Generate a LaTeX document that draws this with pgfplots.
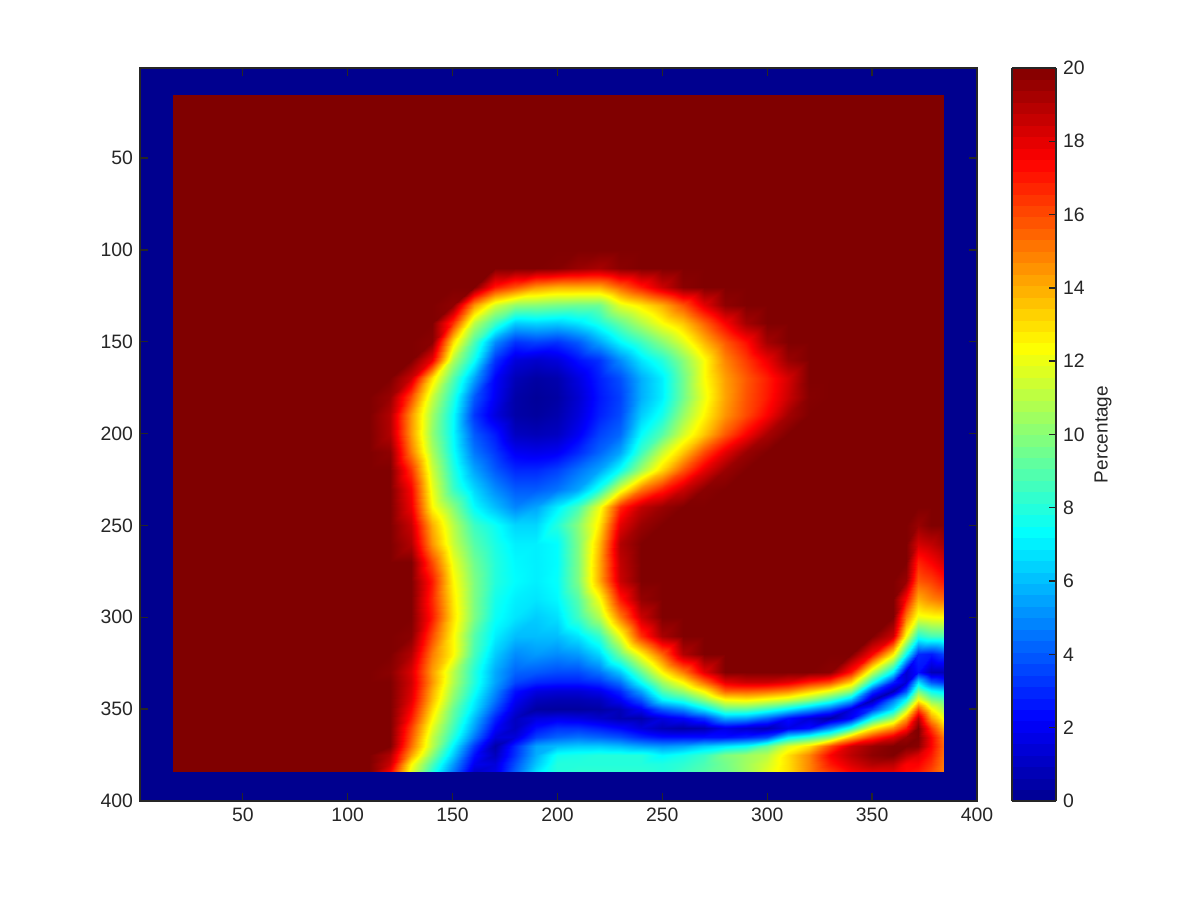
\documentclass[border=0pt]{standalone}
\usepackage{fontspec}
\setmainfont{Liberation Sans}
\usepackage{pgfplots}
\usepackage{pgfplotstable}
\pgfplotsset{compat=1.18}
\definecolor{axc}{RGB}{38,38,38}
\pgfplotstableread{
y 110 120 130 140 150 160 170 180 190 200 210 220 230 240 250 260 270 280 290 300 310 320 330 340 350 360 366 372 378 384
100 20 20 20 20 20 20 20 20 20 20 20 20 20 20 20 20 20 20 20 20 20 20 20 20 20 20 20 20 20 20
110 20 20 20 20 20 20 20 20 20 19.9 19.5 19.2 19.8 20 20 20 20 20 20 20 20 20 20 20 20 20 20 20 20 20
120 20 20 20 20 20 20 17 15.8 14.5 14 14 14 15.5 17 18.5 19.8 20 20 20 20 20 20 20 20 20 20 20 20 20 20
130 20 20 20 20 19.7 14.5 11.5 10.2 10 9.7 9.5 9.5 11.8 12.8 14 15.8 18 19.7 20 20 20 20 20 20 20 20 20 20 20 20
140 20 20 20 20 16.5 11 8.5 6.3 6.5 6.3 6.8 7.8 9.3 10.8 12.3 13.5 15.5 17.5 19.3 20 20 20 20 20 20 20 20 20 20 20
150 20 20 20 19.8 13 8.8 5 3.2 3.5 3.2 4 5.5 7.2 8.5 10 11.7 13.8 15.7 17.2 19.3 20 20 20 20 20 20 20 20 20 20
160 20 20 20 17.8 10.8 7.5 3.2 1.5 1.2 1.5 2.5 3.2 5 6.8 8 10 12.3 14.8 16.3 17.8 19.5 20 20 20 20 20 20 20 20 20
170 20 20 18.5 13 9 5.5 2.2 .8 .4 .6 1.6 2.8 3.8 5.7 7 9.5 12.3 14.3 15.7 16.9 18.3 20 20 20 20 20 20 20 20 20
180 20 19.5 16 11.3 8 4 2 .5 .2 .4 1.3 2.6 3.5 5.7 7 9.5 12 14.2 15.8 17 18.5 19.9 20 20 20 20 20 20 20 20
190 20 19 14.5 10.5 7.4 3.3 1.6 .5 .3 .6 1.5 2.8 3.7 6.3 7.7 10.3 12.5 14.5 16 17.5 19.3 20 20 20 20 20 20 20 20 20
200 20 19 14.4 10.2 7.3 4 2.7 1 .8 1 2 3.5 4.3 7.3 9 11.5 13.5 15.7 17.5 19.2 20 20 20 20 20 20 20 20 20 20
210 20 19.7 15 10.7 7.5 4.6 3.3 2 1.8 2 3 4.2 5.5 8.5 11.3 13.5 16 18 19.5 20 20 20 20 20 20 20 20 20 20 20
220 20 20 16.5 11.4 8 5.5 4 3 3 3.5 4.5 5.5 7.5 10.5 13.2 15.8 18 19.5 20 20 20 20 20 20 20 20 20 20 20 20
230 20 20 17.5 12 8.5 6.5 5 4 4 4.5 5.5 7.8 11.7 15 16.8 18.5 19.8 20 20 20 20 20 20 20 20 20 20 20 20 20
240 20 20 17.8 12.5 10 7.3 6 4.9 5.5 7 8.7 12 16.7 18.7 19.5 20 20 20 20 20 20 20 20 20 20 20 20 20 20 20
250 20 20 18.6 14 11 8.5 7.5 6.5 6.5 8 10 12.8 18 19.5 20 20 20 20 20 20 20 20 20 20 20 20 20 19.5 20 20
260 20 20 19 14.5 11.3 9 7.8 7 7 7.3 9.8 13.7 19 20 20 20 20 20 20 20 20 20 20 20 20 20 20 18.3 18.7 19.3
270 20 20 20 16 12 9.5 8 7.2 7 7.3 9.8 14 18.7 20 20 20 20 20 20 20 20 20 20 20 20 20 20 16.8 17.5 18.3
280 20 20 20 17 12.5 9.8 8 7.3 7 7.4 9.8 14 18.5 20 20 20 20 20 20 20 20 20 20 20 20 20 19.5 15.7 16.2 17
290 20 20 20 16.7 12.8 9.8 7.7 7 6.8 7.2 9 12.2 17 19.6 20 20 20 20 20 20 20 20 20 20 20 20 17.3 14 14.8 15.3
300 20 20 20 17 13 9.8 7.5 6.8 6.3 6.7 8.5 10.8 15 18.5 20 20 20 20 20 20 20 20 20 20 20 20 15 12 12.3 12.4
310 20 20 19.8 16 12.5 9 7 6 6 6 6.8 8.3 12 16.5 19.2 20 20 20 20 20 20 20 20 20 20 18.5 12.2 8 8.7 8.8
320 20 20 19 15 12.5 8.7 6.3 5 5.3 5 5.3 6.5 9.5 12.5 15.5 19 20 20 20 20 20 20 20 20 17.5 12.7 7.5 3 2.7 3.5
330 20 19.8 18.2 14.3 11 8 5.6 4.2 4 3.7 3.7 4.5 6.2 9.3 12.5 15 18 20 20 20 20 20 19.8 17 11.2 7 1.3 2.5 .8 .8
335 20 20 18.4 14.5 10.9 8 5.5 3.6 3 2.8 2.8 3.2 4.5 7.5 10.5 12.5 15.3 18 18.5 18.5 18 16.9 16 13.3 7.8 2.8 1.4 6.7 3.9 3.2
340 20 20 18.2 14 10.4 7.6 5 2.5 1.6 1.4 1.4 1.8 3 5.5 8.9 10.4 12.5 15.5 15.6 15.3 14.7 13.3 11.9 10 3.3 .7 3.9 9.7 7.5 6.8
345 20 20 18 13.7 10 7.1 4.5 2 .9 .7 .7 .9 2 3.8 7 8 10 12.2 12.5 11.9 11.2 10 8.3 5.8 .7 4.7 7.5 12.5 10 9.2
350 20 20 17.5 13.1 9.4 6.7 3.8 1.5 .4 .3 .3 .4 .8 2 4 5 6.9 9.2 9.2 8.3 7 5.5 4 1.6 3.3 6.8 11 16 12.5 10.8
355 20 20 17 12.5 9.1 6 2.9 1 1.6 1.8 1.6 1.2 .7 .6 1.6 2.2 3.3 5.6 5.4 4.2 2.5 1.4 .5 2.2 7.5 10.4 14.2 18.8 14.3 12.2
360 20 20 16.2 11.8 8.6 5.4 2.2 1 2.5 3.2 3.2 2.8 2.3 1.5 .8 .5 .7 1.7 1.2 .8 1.8 2.5 5 8.1 12.5 14.7 17 20 16.4 13.9
365 20 20 15.8 11.2 8 4.6 1.5 1.5 3.5 4.2 4.5 4.2 3.8 3 2.5 2.5 2.5 2.5 2.9 3.6 7 8.3 10 13.8 16.4 18.1 19.5 20 17.5 15.2
370 20 20 15.3 11 7.1 3.3 .5 3 5.5 6 6.3 6.3 6 5.5 5.2 5.5 6.3 6.9 7.5 9.3 11.7 13 16 18.5 19.5 20 20 19.8 17.5 15.5
375 20 19 14.2 10 6.3 2.5 .9 3.2 5.7 7.6 7.8 8 8 8 7.2 7.7 8.4 9.8 10.4 11 13 14.8 17.5 18.8 19.7 20 18.9 18.2 17 15.3
380 20 18.5 12.5 8.8 5.3 1.9 1.5 3.8 6.2 8 8 8 8 8 7.9 8.2 8.8 9.6 10.5 11.5 13 14.8 17 18.2 19 18.8 17.5 17.5 16.5 15.1
384 20 17.5 11.8 8 4.6 1.2 1.7 4.2 6.8 8 8.2 8.2 8.2 8.2 8 8.5 9 9.5 10.5 11.8 13 14.8 16.3 17.5 18 18 17.3 17 16 15
}\heat
\makeatletter
\def\heatcoords{}
\pgfplotsforeachungrouped \r in {0,...,34}{%
  \pgfplotstablegetelem{\r}{y}\of\heat
  \let\yy\pgfplotsretval
  \pgfplotsforeachungrouped \c in {110,120,130,140,150,160,170,180,190,200,210,220,230,240,250,260,270,280,290,300,310,320,330,340,350,360,366,372,378,384}{%
    \pgfplotstablegetelem{\r}{\c}\of\heat
    \xdef\heatcoords{\heatcoords (\c,\yy) [\pgfplotsretval]}%
  }%
}
\makeatother
\begin{document}
\begin{tikzpicture}
\useasboundingbox (-70pt,-49.5pt) rectangle (530pt,400.5pt);
\begin{axis}[
  scale only axis, width=418.5pt, height=366.5pt,
  at={(0pt,0pt)}, anchor=south west,
  xmin=1, xmax=400, ymin=1, ymax=400,
  y dir=reverse,
  xtick={50,100,...,400}, ytick={50,100,...,400},
  xticklabel pos=lower,
  tick align=inside, major tick length=4pt,
  axis on top,
  axis line style={axc,line width=0.8pt},
  every tick/.style={axc,line width=0.7pt},
  tick label style={font=\fontsize{9.7}{12}\selectfont, text=axc, /pgf/number format/assume math mode=true},
  colormap={matjet}{rgb255(0)=(0,0,143) rgb255(7)=(0,0,255) rgb255(23)=(0,255,255) rgb255(39)=(255,255,0) rgb255(55)=(255,0,0) rgb255(63)=(128,0,0)},
  point meta min=0, point meta max=20,
  colorbar sampled,
  colorbar style={
    samples=65,
    width=22pt, height=366.5pt,
    at={(parent axis.north east)}, anchor=north west, xshift=9pt,
    ytick={0,2,...,20},
    ytick pos=right, yticklabel pos=right,
    ylabel={Percentage},
    ylabel style={font=\fontsize{9.5}{12}\selectfont, text=axc, yshift=2pt},
    tick align=inside, major tick length=3.5pt,
    axis line style={axc,line width=0.8pt},
    every tick/.style={axc,line width=0.7pt},
    tick label style={font=\fontsize{9.7}{12}\selectfont, text=axc, /pgf/number format/assume math mode=true},
  },
]
\addplot[surf, shader=flat, mesh/rows=2, mesh/cols=2, point meta=explicit] coordinates {
  (1,1) [0] (400,1) [0]
  (1,400) [0] (400,400) [0]
};
\addplot[surf, shader=flat, mesh/rows=2, mesh/cols=2, point meta=explicit] coordinates {
  (17,16) [20] (384,16) [20]
  (17,384) [20] (384,384) [20]
};
\edef\temp{\noexpand\addplot[surf, shader=interp, mesh/rows=35, mesh/cols=30, point meta=explicit] coordinates {\heatcoords};}
\temp
\end{axis}
\end{tikzpicture}
\end{document}
